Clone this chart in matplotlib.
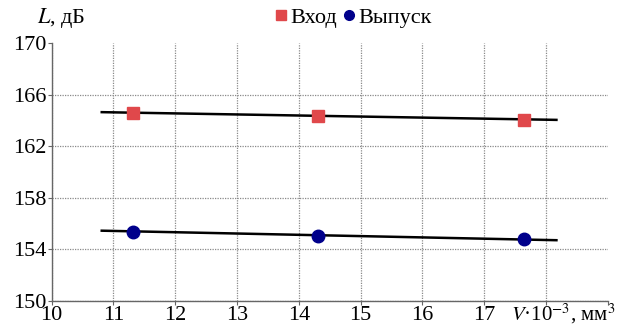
import matplotlib
matplotlib.use("Agg")
import matplotlib.pyplot as plt
from matplotlib.lines import Line2D
from matplotlib.font_manager import FontProperties

FAM = 'Liberation Serif'
plt.rcParams['font.family'] = FAM
plt.rcParams['font.serif'] = [FAM]
plt.rcParams['mathtext.fontset'] = 'stix'

# Data
v_points = [11.31, 14.31, 17.65]
inlet_L = [164.6, 164.33, 164.07]
exhaust_L = [155.33, 155.02, 154.78]
trend_x = [10.81, 18.17]
inlet_trend = [164.65, 164.05]
exhaust_trend = [155.44, 154.70]
x_ticks = [10, 11, 12, 13, 14, 15, 16, 17, 18, 19]
x_tick_labels = ['10', '11', '12', '13', '14', '15', '16', '17', '', '']
y_ticks = [150, 154, 158, 162, 166, 170]
y_tick_labels = [str(v) for v in y_ticks]

W, H = 617, 332
fig = plt.figure(figsize=(W / 100, H / 100), dpi=100)
ax = fig.add_axes([51.7 / W, 1 - 300.7 / H, (607.7 - 51.7) / W, (300.7 - 43.3) / H])

red = '#E0484B'
navy = '#00008B'

ax.plot(trend_x, inlet_trend, color='black', lw=1.8, zorder=3)
ax.plot(trend_x, exhaust_trend, color='black', lw=1.8, zorder=3)
ax.plot(v_points, inlet_L, ls='none', marker='s', ms=8, color=red, zorder=4)
ax.plot(v_points, exhaust_L, ls='none', marker='o', ms=9, color=navy, zorder=4)

ax.set_xlim(10, 19)
ax.set_ylim(150, 170)
ax.set_xticks(x_ticks)
ax.set_xticklabels(x_tick_labels, family=FAM, fontsize=16)
ax.set_yticks(y_ticks)
ax.set_yticklabels(y_tick_labels, family=FAM, fontsize=16)

ax.grid(True, color='#8a8a8a', ls=(0, (1, 1)), lw=0.9)
ax.xaxis.get_gridlines()[-1].set_visible(False)
ax.yaxis.get_gridlines()[-1].set_visible(False)
ax.set_axisbelow(True)
for s in ['top', 'right']:
    ax.spines[s].set_visible(False)
for s in ['left', 'bottom']:
    ax.spines[s].set_color('#666666')
    ax.spines[s].set_linewidth(1.0)
ax.tick_params(axis='both', direction='out', length=3, color='#666666', pad=1)

fig.text(511 / W, 1 - 302 / H, r'$V$·10$^{-3}$, мм$^{3}$', fontsize=15,
         family=FAM, ha='left', va='top')
fig.text(37 / W, 1 - 18 / H, r'$L$, дБ', fontsize=16, family=FAM,
         ha='left', va='center')

handles = [Line2D([], [], ls='none', marker='s', ms=7, color=red),
           Line2D([], [], ls='none', marker='o', ms=7, color=navy)]
fig.legend(handles, ['Вход', 'Выпуск'], loc='center',
           bbox_to_anchor=(352 / W, 1 - 18 / H), ncol=2, frameon=False,
           prop=FontProperties(family=FAM, size=16), handletextpad=0.05,
           columnspacing=0.1, handlelength=0.8, borderpad=0)

fig.savefig('out.png', dpi=100)
